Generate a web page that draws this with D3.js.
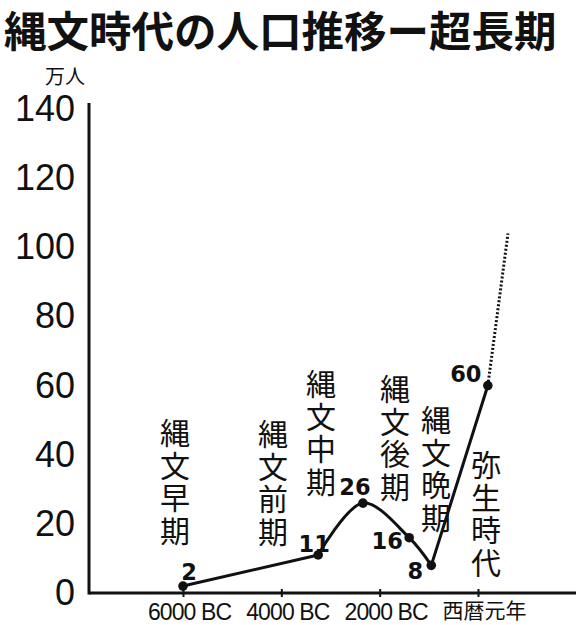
<!DOCTYPE html>
<html><head><meta charset="utf-8">
<script src="https://cdn.jsdelivr.net/npm/d3@7"></script>
<style>body{margin:0;background:#fff}svg{display:block}</style>
</head><body>
<svg id="c" width="582" height="625"></svg>
<script>
// ---- data ----
const title = "縄文時代の人口推移ー超長期";
const unitLabel = "万人";
const years = [-6000, -3250, -2340, -1400, -950, 200];
const population = [2, 11, 26, 16, 8, 60];
const projYears = [200, 610];
const projPopulation = [60, 104];
const periods = ["縄文早期", "縄文前期", "縄文中期", "縄文後期", "縄文晩期", "弥生時代"];
const xTickValues = [-6000, -4000, -2000, 0];
const xTickLabels = ["6000 BC", "4000 BC", "2000 BC", "西暦元年"];
const yTickValues = [0, 20, 40, 60, 80, 100, 120, 140];

// ---- layout (pixels) ----
const periodPos = [[175, 433], [273, 434], [321, 384], [395, 389], [436, 420], [486, 465]];
const valueLabelOffset = [[6, -14], [-4, -11], [-8, -16], [-22, 3], [-16, 5], [-22, -12]];
// which stretches of the line are smoothed (index ranges into the series)
const smoothRange = [1, 4];

const svg = d3.select("#c");
const x = d3.scaleLinear().domain([-6000, 0]).range([183, 478]);
const y = d3.scaleLinear().domain([0, 140]).range([593, 109]);
const axisX = 89, axisRight = 576;

const sans = "'Liberation Sans', Arial, Helvetica, sans-serif";
const cjk = "'Noto Sans CJK JP', 'Noto Sans CJK SC', sans-serif";

// title
svg.append("text").attr("x", 4).attr("y", 47)
  .attr("font-family", cjk).attr("font-size", 42.5).attr("font-weight", 700)
  .attr("fill", "#111").text(title);

svg.append("text").attr("x", 65).attr("y", 84).attr("text-anchor", "middle")
  .attr("font-family", cjk).attr("font-size", 20).attr("fill", "#111").text(unitLabel);

// y axis
const yAxis = d3.axisLeft(y).tickValues(yTickValues).tickSize(0).tickPadding(14);
const gy = svg.append("g").attr("transform", `translate(${axisX},0)`).call(yAxis);
gy.select(".domain").remove();
gy.selectAll("text").attr("font-family", sans).attr("font-size", 36)
  .attr("fill", "#111").attr("dy", "0.32em");
svg.append("line").attr("x1", axisX).attr("x2", axisX)
  .attr("y1", y(140) - 6).attr("y2", y(0) + 1.5)
  .attr("stroke", "#111").attr("stroke-width", 3);

// x axis
const xAxis = d3.axisBottom(x).tickValues(xTickValues)
  .tickFormat((d, i) => xTickLabels[i]).tickSize(0).tickPadding(10);
const gx = svg.append("g").attr("transform", `translate(0,${y(0)})`).call(xAxis);
gx.select(".domain").remove();
gx.selectAll("text").attr("font-family", (d, i) => i === 3 ? cjk : sans)
  .attr("font-size", (d, i) => i === 3 ? 21 : 23)
  .attr("letter-spacing", (d, i) => i === 3 ? 0 : -0.9)
  .attr("fill", "#111").attr("dx", 6).attr("dy", "0.72em");
gx.selectAll(".tick").append("line").attr("y1", -4).attr("y2", 4)
  .attr("stroke", "#111").attr("stroke-width", 2);
svg.append("line").attr("x1", axisX).attr("x2", axisRight)
  .attr("y1", y(0)).attr("y2", y(0))
  .attr("stroke", "#111").attr("stroke-width", 3);

// period labels (vertical, one character per text)
periods.forEach((p, i) => {
  const [px, py] = periodPos[i];
  Array.from(p).forEach((ch, j) => {
    svg.append("text").attr("x", px).attr("y", py + j * 32.5 + 11)
      .attr("text-anchor", "middle").attr("font-family", cjk)
      .attr("font-size", 30).attr("fill", "#111").text(ch);
  });
});

// main line: straight ends, smooth hump
const pts = years.map((d, i) => [x(d), y(population[i])]);
const straight = d3.line();
const smooth = d3.line().curve(d3.curveCatmullRom.alpha(0.5));
const segs = [
  straight(pts.slice(0, smoothRange[0] + 1)),
  smooth(pts.slice(smoothRange[0], smoothRange[1] + 1)),
  straight(pts.slice(smoothRange[1]))
];
svg.selectAll("path.ln").data(segs).join("path").attr("class", "ln")
  .attr("d", d => d).attr("fill", "none")
  .attr("stroke", "#111").attr("stroke-width", 3)
  .attr("stroke-linejoin", "round").attr("stroke-linecap", "round");

// projection (dotted)
const proj = projYears.map((d, i) => [x(d), y(projPopulation[i])]);
svg.append("path").attr("d", d3.line()(proj)).attr("fill", "none")
  .attr("stroke", "#111").attr("stroke-width", 3).attr("stroke-dasharray", "2 2");

// points
svg.selectAll("circle.pt").data(pts).join("circle").attr("class", "pt")
  .attr("cx", d => d[0]).attr("cy", d => d[1]).attr("r", 4.8).attr("fill", "#111");

// value labels
svg.selectAll("text.val").data(population).join("text").attr("class", "val")
  .attr("x", (d, i) => pts[i][0] + valueLabelOffset[i][0])
  .attr("y", (d, i) => pts[i][1] + valueLabelOffset[i][1] + 8.2)
  .attr("text-anchor", "middle").attr("font-family", "'DejaVu Sans', sans-serif")
  .attr("font-weight", "bold").attr("font-size", 22.5).attr("fill", "#111")
  .text(d => d);
</script>
</body></html>
